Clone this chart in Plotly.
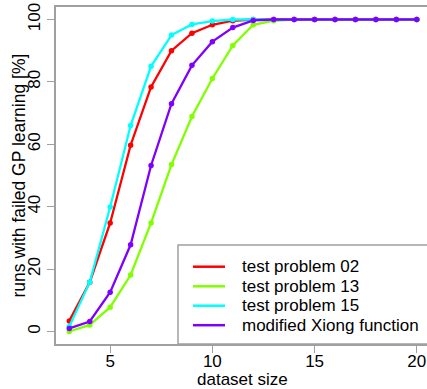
import plotly.graph_objects as go

dataset_size = list(range(3, 21))
tp02 = [3.4, 15.8, 34.8, 59.7, 78.4, 90.0, 95.6, 98.3, 99.6, 100, 100, 100, 100, 100, 100, 100, 100, 100]
tp13 = [0.0, 2.1, 7.8, 18.1, 34.8, 53.5, 68.9, 81.1, 91.7, 98.3, 99.6, 100, 100, 100, 100, 100, 100, 100]
tp15 = [1.6, 15.8, 39.9, 66.0, 85.0, 95.0, 98.4, 99.5, 100, 100, 100, 100, 100, 100, 100, 100, 100, 100]
xiong = [1.0, 3.2, 12.6, 27.8, 53.2, 73.0, 85.3, 92.9, 97.4, 99.7, 100, 100, 100, 100, 100, 100, 100, 100]

series_names = ["test problem 02", "test problem 13", "test problem 15", "modified Xiong function"]
series_values = [tp02, tp13, tp15, xiong]
series_colors = ["#FF0000", "#80FF00", "#00FFFF", "#8000FF"]

x_ticks = [5, 10, 15, 20]
y_ticks = [0, 20, 40, 60, 80, 100]

FONT = "Liberation Sans, Arial, sans-serif"
FS = 17
AXIS_GREY = "#a0a0a0"

W, H = 427, 389
ML, MR, MT, MB = 56, 0, 7, 45
PW, PH = W - ML - MR, H - MT - MB


def px_x(p):
    return (p - ML) / PW


def px_y(p):
    return (H - MB - p) / PH


fig = go.Figure()
for name, vals, col in zip(series_names, series_values, series_colors):
    fig.add_trace(go.Scatter(
        x=dataset_size, y=vals, mode="lines+markers", name=name,
        line=dict(color=col, width=2.3),
        marker=dict(color=col, size=5.5),
        showlegend=False,
    ))

# legend drawn in paper coordinates (box, line samples, labels)
shapes = [dict(
    type="rect", xref="paper", yref="paper",
    x0=px_x(178), x1=1.05, y0=0, y1=px_y(245),
    line=dict(color=AXIS_GREY, width=1.5), fillcolor="rgba(0,0,0,0)", layer="above",
)]
annotations = []
row_y = [266.7, 286.3, 305.7, 325.2]
for name, col, ry in zip(series_names, series_colors, row_y):
    shapes.append(dict(
        type="line", xref="paper", yref="paper",
        x0=px_x(193), x1=px_x(225), y0=px_y(ry), y1=px_y(ry),
        line=dict(color=col, width=2.5), layer="above",
    ))
    annotations.append(dict(
        xref="paper", yref="paper", x=px_x(240), y=px_y(ry),
        xanchor="left", yanchor="middle", text=name, showarrow=False,
        font=dict(family=FONT, size=FS, color="black"),
    ))

annotations.append(dict(
    xref="paper", yref="paper", x=px_x(18), y=0.5, xanchor="center", yanchor="middle",
    text="runs with failed GP learning [%]", textangle=-90, showarrow=False,
    font=dict(family=FONT, size=17.5, color="black"),
))
annotations.append(dict(
    xref="paper", yref="paper", x=px_x(242), y=px_y(380),
    xanchor="center", yanchor="middle",
    text="dataset size", showarrow=False,
    font=dict(family=FONT, size=FS, color="black"),
))

fig.update_layout(
    width=W, height=H,
    margin=dict(l=ML, r=MR, t=MT, b=MB, autoexpand=False),
    paper_bgcolor="white", plot_bgcolor="white",
    font=dict(family=FONT, size=FS, color="black"),
    showlegend=False,
    xaxis=dict(
        range=[2.35, 20.5], tickvals=x_ticks, ticktext=[str(v) for v in x_ticks],
        showgrid=False, zeroline=False, showline=True, linecolor=AXIS_GREY, linewidth=1.5,
        mirror=True, ticks="outside", ticklen=7, tickcolor=AXIS_GREY, tickwidth=1.2,
        tickfont=dict(size=FS), automargin=False, ticklabelstandoff=-6,
    ),
    yaxis=dict(
        range=[-4, 104], tickvals=y_ticks, ticktext=[str(v) for v in y_ticks],
        showgrid=False, zeroline=False, showline=True, linecolor=AXIS_GREY, linewidth=1.5,
        ticks="outside", ticklen=7, tickcolor=AXIS_GREY, tickwidth=1.2, tickangle=-90,
        tickfont=dict(size=FS), automargin=False,
    ),
    shapes=shapes,
    annotations=annotations,
)

fig.write_html(
    "out.html",
    config={"displayModeBar": False},
    post_script="document.body.style.margin='0';document.body.style.overflow='hidden';",
)
